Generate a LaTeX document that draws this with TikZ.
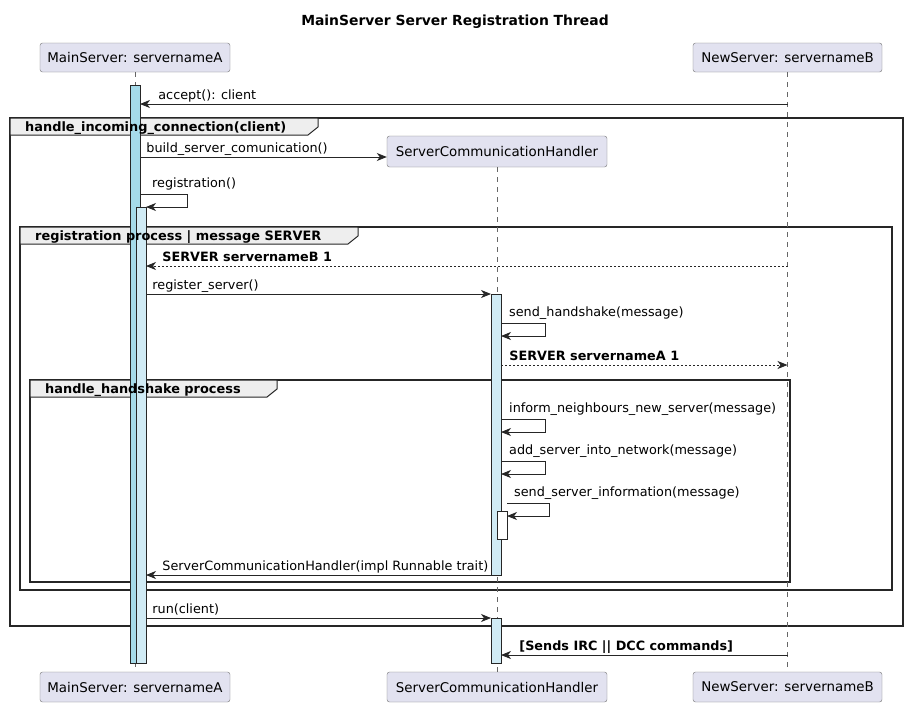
\documentclass[tikz,border=0pt]{standalone}
\usepackage{fontspec}
\setmainfont{DejaVu Sans}
\usepackage{xcolor}
\usepackage{tikz}
\usetikzlibrary{arrows.meta}
\definecolor{custom_lavender}{HTML}{E2E2F0}
\definecolor{custom_cyan}{HTML}{A5DBEA}
\definecolor{custom_lightcyan}{HTML}{D0EBF5}
\definecolor{custom_gray}{HTML}{EEEEEE}

\begin{document}
\begin{tikzpicture}[x=1pt, y=-1pt, >={Stealth[length=10pt, width=8pt, inset=3pt]}]
            % Styles
            \tikzstyle{participant} = [rectangle, rounded corners=2.5pt, draw=black!55, fill=custom_lavender, inner sep=0pt, font=\fontsize{13.4}{15}\selectfont]
            \tikzstyle{lifeline} = [draw=black!60, line width=0.5pt, dash pattern=on 5pt off 5pt]
            \tikzstyle{activation} = [rectangle, draw=black!85, line width=0.7pt, minimum width=10pt, inner sep=0pt, outer sep=0pt, anchor=north]
            \tikzstyle{msg} = [->, line width=0.8pt, draw=black!85]
            \tikzstyle{reply} = [->, line width=0.8pt, draw=black!85, dash pattern=on 2pt off 2pt]
            \tikzstyle{lbl} = [anchor=base west, inner sep=0pt, font=\fontsize{12.8}{14}\selectfont]
            \tikzstyle{boldlbl} = [lbl, font=\bfseries\fontsize{12.8}{14}\selectfont]
            \tikzstyle{frame} = [draw=black!85, line width=1.4pt]
            \tikzstyle{tab} = [draw=black!85, line width=1pt, fill=custom_gray]
            \tikzstyle{tablbl} = [anchor=base west, inner sep=0pt, font=\bfseries\fontsize{12.9}{14}\selectfont]

            \useasboundingbox (0,0) rectangle (907,707);

            % Title
            \node[font=\bfseries\fontsize{13.9}{16}\selectfont] (title) at (455,22) {MainServer Server Registration Thread};

            % Frames
            \draw[frame] (10,118) rectangle (903,626);
            \draw[tab] (10,118) -- (318,118) -- (318,127) -- (308,135) -- (10,135) -- cycle;
            \draw[frame] (20,227) rectangle (892,590);
            \draw[tab] (20,227) -- (358,227) -- (358,236) -- (348,244) -- (20,244) -- cycle;
            \draw[frame] (30,380) rectangle (790,582);
            \draw[tab] (30,380) -- (277,380) -- (277,389) -- (267,397) -- (30,397) -- cycle;

            % Nodes: Participants
            \node[participant, minimum width=190pt, minimum height=29pt] (MSt) at (135,57.5) {MainServer: servernameA};
            \node[participant, minimum width=189pt, minimum height=29pt] (NSt) at (787.5,57.5) {NewServer: servernameB};
            \node[participant, minimum width=220pt, minimum height=31pt] (SCH) at (497,151.5) {ServerCommunicationHandler};
            \node[participant, minimum width=190pt, minimum height=30pt] (MSb) at (135,687) {MainServer: servernameA};
            \node[participant, minimum width=220pt, minimum height=30pt] (SCHb) at (497,687) {ServerCommunicationHandler};
            \node[participant, minimum width=189pt, minimum height=30pt] (NSb) at (787.5,687) {NewServer: servernameB};

            % Lifelines
            \draw[lifeline] (MSt) -- (MSb);
            \draw[lifeline] (SCH) -- (SCHb);
            \draw[lifeline] (NSt) -- (NSb);

            % Activations
            \node[activation, fill=custom_cyan, minimum height=578pt] (actA) at (135,85) {};
            \node[activation, fill=custom_lightcyan, minimum height=456pt] (actA2) at (141,207) {};
            \node[activation, fill=custom_lightcyan, minimum height=281pt] (actH) at (496,294) {};
            \node[activation, fill=white, minimum height=28pt] (actH2) at (502,511) {};
            \node[activation, fill=custom_lightcyan, minimum height=45pt] (actH3) at (496,618) {};

            % Frame labels
            \node[tablbl] (F1) at (25,131) {handle\_incoming\_connection(client)};
            \node[tablbl] (F2) at (35,240) {registration process | message SERVER};
            \node[tablbl] (F3) at (45,393) {handle\_handshake process};

            % Message levels
            \coordinate (m1) at (0,104);
            \coordinate (m2) at (0,157);
            \coordinate (m3) at (0,194);
            \coordinate (m3b) at (0,207);
            \coordinate (m4) at (0,266);
            \coordinate (m5) at (0,294);
            \coordinate (m6) at (0,323);
            \coordinate (m6b) at (0,336);
            \coordinate (m7) at (0,365);
            \coordinate (m8) at (0,419);
            \coordinate (m8b) at (0,432);
            \coordinate (m9) at (0,461);
            \coordinate (m9b) at (0,474);
            \coordinate (m10) at (0,503);
            \coordinate (m10b) at (0,516);
            \coordinate (m11) at (0,575);
            \coordinate (m12) at (0,618);
            \coordinate (m13) at (0,655);

            % Messages
            \draw[msg] (NSt |- m1) -- (actA.east |- m1) node[lbl, pos=1, xshift=18pt, yshift=5pt] {accept(): client};
            \draw[msg] (actA.east |- m2) -- (SCH.west |- m2) node[lbl, pos=0, xshift=6pt, yshift=5pt] {build\_server\_comunication()};
            \draw[msg] (actA.east |- m3) -- ++(47,0) |- (actA2.east |- m3b);
            \node[lbl, yshift=7pt] at (152,194) {registration()};
            \draw[reply] (NSt |- m4) -- (actA2.east |- m4) node[boldlbl, pos=1, xshift=16pt, yshift=5pt] {SERVER servernameB 1};
            \draw[msg] (actA2.east |- m5) -- (actH.west |- m5) node[lbl, pos=0, xshift=6pt, yshift=5pt] {register\_server()};
            \draw[msg] (actH.east |- m6) -- ++(44,0) |- (actH.east |- m6b);
            \node[lbl, yshift=7pt] at (509,323) {send\_handshake(message)};
            \draw[reply] (actH.east |- m7) -- (NSt |- m7) node[boldlbl, pos=0, xshift=8pt, yshift=5pt] {SERVER servernameA 1};
            \draw[msg] (actH.east |- m8) -- ++(44,0) |- (actH.east |- m8b);
            \node[lbl, yshift=7pt] at (509,419) {inform\_neighbours\_new\_server(message)};
            \draw[msg] (actH.east |- m9) -- ++(44,0) |- (actH.east |- m9b);
            \node[lbl, yshift=7pt] at (509,461) {add\_server\_into\_network(message)};
            \draw[msg] (actH2.north east |- m10) -- ++(42,0) |- (actH2.east |- m10b);
            \node[lbl, yshift=7pt] at (514,503) {send\_server\_information(message)};
            \draw[msg] (actH.west |- m11) -- (actA2.east |- m11) node[lbl, pos=1, xshift=16pt, yshift=5pt] {ServerCommunicationHandler(impl Runnable trait)};
            \draw[msg] (actA2.east |- m12) -- (actH3.west |- m12) node[lbl, pos=0, xshift=6pt, yshift=5pt] {run(client)};
            \draw[msg] (NSt |- m13) -- (actH3.east |- m13) node[boldlbl, pos=1, xshift=18pt, yshift=5pt] {[Sends IRC || DCC commands]};
        \end{tikzpicture}
\end{document}
